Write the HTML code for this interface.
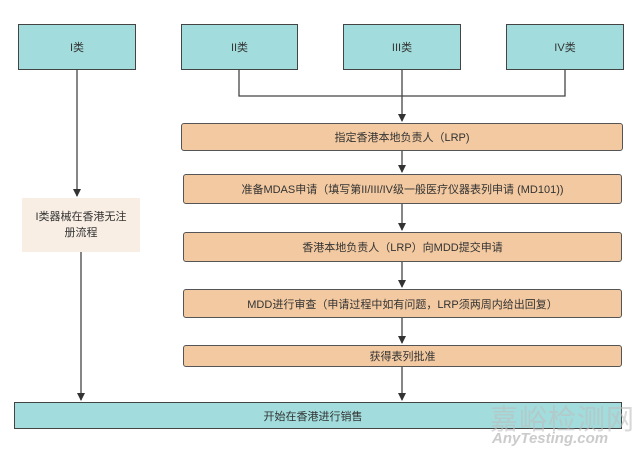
<!DOCTYPE html>
<html><head><meta charset="utf-8"><style>
html,body{margin:0;padding:0;background:#fff;}
body{width:642px;height:455px;position:relative;overflow:hidden;font-family:"Liberation Sans","Noto Sans CJK SC",sans-serif;font-size:11px;color:#333;}
.b{position:absolute;box-sizing:border-box;display:flex;align-items:center;justify-content:center;text-align:center;}
.c{background:#a2dcdc;border:1.5px solid #444;}
.o{background:#f2c9a0;border:1.5px solid #555;border-radius:3px;}
.p{background:#f8eee4;}
</style></head><body>
<svg width="642" height="455" style="position:absolute;left:0;top:0">
<defs><marker id="a" markerWidth="8" markerHeight="8" refX="7" refY="4" orient="auto" markerUnits="userSpaceOnUse"><path d="M0,0 L8,4 L0,8 z" fill="#333"/></marker></defs>
<g stroke="#444" stroke-width="1.3" fill="none">
<path d="M77,70 V196" marker-end="url(#a)"/>
<path d="M81,252 V400" marker-end="url(#a)"/>
<path d="M239,70 V96 H565 V70"/>
<path d="M402,70 V121" marker-end="url(#a)"/>
<path d="M402,151 V172" marker-end="url(#a)"/>
<path d="M402,204 V230" marker-end="url(#a)"/>
<path d="M402,262 V287" marker-end="url(#a)"/>
<path d="M402,318 V343" marker-end="url(#a)"/>
<path d="M402,367 V400" marker-end="url(#a)"/>
</g></svg>
<div class="b c" style="left:18px;top:24px;width:118px;height:46px">I类</div>
<div class="b c" style="left:181px;top:24px;width:117px;height:46px">II类</div>
<div class="b c" style="left:343px;top:24px;width:118px;height:46px">III类</div>
<div class="b c" style="left:506px;top:24px;width:118px;height:46px">IV类</div>
<div class="b o" style="left:181px;top:123px;width:442px;height:28px">指定香港本地负责人（LRP)</div>
<div class="b o" style="left:183px;top:174px;width:439px;height:30px">准备MDAS申请（填写第II/III/IV级一般医疗仪器表列申请 (MD101))</div>
<div class="b o" style="left:183px;top:232px;width:439px;height:30px">香港本地负责人（LRP）向MDD提交申请</div>
<div class="b o" style="left:183px;top:289px;width:439px;height:29px">MDD进行审查（申请过程中如有问题，LRP须两周内给出回复）</div>
<div class="b o" style="left:183px;top:345px;width:439px;height:22px">获得表列批准</div>
<div class="b p" style="left:22px;top:198px;width:118px;height:54px;line-height:16px">I类器械在香港无注<br>册流程</div>
<div class="b c" style="left:14px;top:402px;width:608px;height:27px;padding-right:10px">开始在香港进行销售</div>
<div style="position:absolute;left:490px;top:398px;font-size:28px;color:rgba(190,190,190,0.6);letter-spacing:1px">嘉峪检测网</div>
<div style="position:absolute;left:492px;top:430px;font-size:15px;font-style:italic;font-weight:bold;color:rgba(190,190,190,0.8)">AnyTesting.com</div>
</body></html>
